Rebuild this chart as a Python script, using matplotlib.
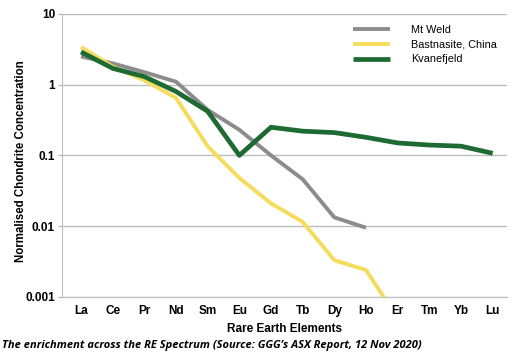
import numpy as np
import matplotlib
matplotlib.use("Agg")
import matplotlib.pyplot as plt

# --- Données ---
elements = ["La", "Ce", "Pr", "Nd", "Sm", "Eu", "Gd", "Tb", "Dy", "Ho", "Er", "Tm", "Yb", "Lu"]
mt_weld = [2.5, 2.0, 1.5, 1.1, 0.44, 0.23, 0.10, 0.046, 0.0133, 0.0095]
bastnasite = [3.4, 1.8, 1.15, 0.65, 0.134, 0.048, 0.021, 0.0115, 0.0033, 0.0024, 0.0005]
kvanefjeld = [2.9, 1.7, 1.3, 0.8, 0.42, 0.10, 0.25, 0.22, 0.21, 0.18, 0.15, 0.14, 0.135, 0.107]

plt.rcParams['font.family'] = ['Liberation Sans', 'DejaVu Sans']

fig = plt.figure(figsize=(5.21, 3.56), dpi=100)
ax = fig.add_axes([0.119, 0.166, 0.854, 0.795])

x = np.arange(len(elements))
ax.plot(x[:len(mt_weld)], mt_weld, color="#8c8c8c", lw=2.8, label="Mt Weld", solid_capstyle="butt")
ax.plot(x[:len(bastnasite)], bastnasite, color="#f6dc5c", lw=2.8, label="Bastnasite, China", solid_capstyle="butt")
ax.plot(x, kvanefjeld, color="#1d6a33", lw=3.4, label="Kvanefjeld", solid_capstyle="butt")

ax.set_yscale("log")
ax.set_ylim(0.001, 10)
ax.set_xlim(-0.6, 13.45)
ax.set_yticks([0.001, 0.01, 0.1, 1, 10])
ax.set_yticklabels(["0.001", "0.01", "0.1", "1", "10"], fontweight="bold", fontsize=8.5)
ax.yaxis.set_minor_locator(plt.NullLocator())
ax.set_xticks(x)
ax.set_xticklabels(elements, fontweight="bold", fontsize=8.5)
ax.tick_params(axis="x", length=0, pad=6)
ax.tick_params(axis="y", length=3, color="#b0b0b0", pad=2)
ax.grid(axis="y", color="#bdbdbd", lw=1.0)
ax.set_axisbelow(True)
for s in ["top", "right"]:
    ax.spines[s].set_visible(False)
ax.spines["left"].set_color("#bdbdbd")
ax.spines["bottom"].set_color("#bdbdbd")

ax.set_xlabel("Rare Earth Elements", fontweight="bold", fontsize=8.5, labelpad=4)
ax.set_ylabel("Normalised Chondrite Concentration", fontweight="bold", fontsize=8.3)
ax.yaxis.set_label_coords(-0.079, 0.48)

leg = ax.legend(loc="upper left", bbox_to_anchor=(0.654, 0.962), frameon=False, fontsize=7.8,
                borderaxespad=0, borderpad=0,
                handlelength=3.4, handletextpad=2.0, labelspacing=0.45)

fig.text(0.004, 0.022, "The enrichment across the RE Spectrum (Source: GGG\u2019s ASX Report, 12 Nov 2020)",
         fontsize=8, style="italic", fontweight="bold", family=["Open Sans", "DejaVu Sans"])

plt.savefig("out.png", dpi=100)
